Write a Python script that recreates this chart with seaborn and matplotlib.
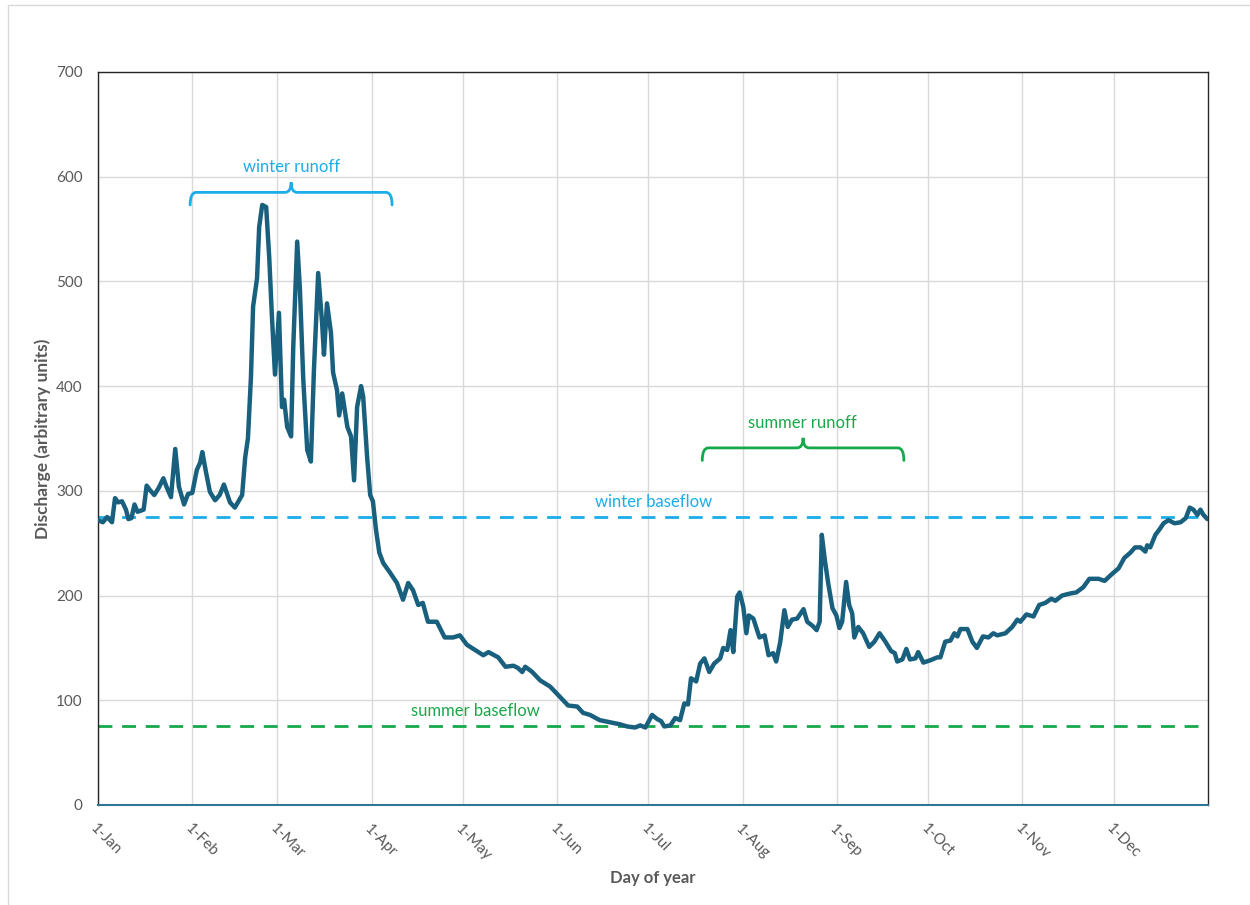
import matplotlib
matplotlib.use("Agg")
import matplotlib.pyplot as plt
import matplotlib.patches as mpatches
from matplotlib.path import Path
import pandas as pd
import seaborn as sns

# Discharge series (day of year, value)
day = [0, 1.6, 3, 4.6, 5.6, 6.6, 7.9, 9.2, 10, 11, 12, 13, 15, 16, 17, 18.5, 20, 21.5, 22.5, 24,
       25.4, 26.6, 28.3, 29.6, 31, 32.5, 33.6, 34.3, 35.5, 36.8, 38.5, 40, 41.4, 43.4, 45, 47.4,
       48.4, 49.3, 50.3, 51, 52.3, 53, 54, 55.3, 56.3, 57.2, 58.2, 59.5, 60.5, 61.2, 62.2, 63.5,
       64.2, 65.5, 66.4, 67.5, 68.8, 70, 71, 72.4, 73.7, 74.3, 75.3, 76.6, 77.3, 78.6, 79.3, 80.3,
       82, 83.2, 84.2, 85.2, 86.5, 87.2, 88.5, 89.5, 90.4, 91.4, 92.5, 93.8, 96, 98.3, 100.3, 102,
       103.6, 105.3, 106.8, 108.5, 111.4, 114, 116.8, 119, 121.3, 124, 126.7, 128.4, 131.6, 134,
       136.6, 138, 139.5, 140.5, 142.8, 145.4, 148.7, 152, 154.6, 157.6, 159.5, 161.8, 165, 168.4,
       171.7, 174, 176.6, 178.3, 180, 182.2, 183.9, 185.2, 186.2, 188.2, 189.8, 191.4, 192.8, 194,
       195, 196.7, 198, 199.4, 201, 202.6, 204.6, 205.6, 206.9, 208, 208.9, 210.2, 211, 212.2,
       213.2, 214, 215.5, 217.5, 219.2, 220.5, 222, 223, 224.3, 225.7, 226.8, 228.2, 229.9, 232,
       233.2, 235, 236.3, 237.3, 238, 239, 240.1, 241.5, 242.8, 243.8, 244.7, 246, 247, 248,
       248.7, 250, 251.6, 253.6, 255.3, 257, 258.9, 260.8, 262, 262.8, 264.5, 265.8, 267, 268.8,
       269.7, 271.4, 273.5, 276, 277, 278.6, 280.3, 281.6, 282.6, 283.6, 285.9, 287.5, 289, 291,
       292.8, 294.4, 295.7, 298.4, 300.6, 302.3, 303.3, 305.3, 307.6, 309.5, 311.5, 313.5, 314.8,
       317, 319.7, 321.7, 324, 326, 329, 331, 333.2, 335.6, 337.5, 339.5, 341, 342.8, 344.4, 345,
       346, 347.7, 349, 350.4, 352, 354, 356, 357.7, 359, 360.2, 361.5, 362.5, 363.5, 364.8]
discharge = [272, 270, 275, 270, 293, 289, 290, 282, 273, 274, 287, 280, 282, 305, 301, 296, 303, 312, 304, 294,
             340, 304, 287, 297, 298, 320, 327, 337, 318, 299, 291, 296, 306, 289, 284, 296,
             332, 350, 409, 476, 503, 552, 573, 571, 523, 466, 411, 470, 380, 387, 361, 352,
             437, 538, 492, 406, 339, 328, 415, 508, 460, 430, 479, 451, 413, 396, 372, 393,
             361, 352, 310, 380, 400, 390, 332, 296, 290, 263, 241, 231, 222, 212, 196, 212,
             205, 191, 193, 175, 175, 160, 160, 162, 153, 148, 143, 146, 141, 132,
             133, 131, 127, 132, 127, 119, 113, 103, 95, 94, 88, 86, 81, 79,
             77, 75, 74, 76, 74, 86, 82, 80, 75, 76, 83, 81, 97, 96,
             121, 118, 135, 140, 127, 135, 140, 150, 148, 167, 146, 199, 203, 189,
             164, 181, 178, 160, 162, 143, 145, 137, 155, 186, 170, 177, 178, 187,
             175, 171, 167, 175, 258, 234, 212, 188, 181, 169, 175, 213, 191, 183,
             160, 170, 164, 151, 156, 164, 156, 147, 145, 137, 139, 149, 139, 140,
             146, 136, 138, 141, 141, 156, 157, 164, 161, 168, 168, 156, 150, 161,
             160, 164, 162, 164, 170, 177, 175, 182, 180, 191, 193, 197, 195,
             200, 202, 203, 208, 216, 216, 214, 220, 226, 236, 241, 246, 246, 242, 248,
             246, 258, 263, 269, 272, 269, 270, 274, 284, 282, 277, 282, 277, 273]

month_start = [0, 31, 59, 90, 120, 151, 181, 212, 243, 273, 304, 334]
month_labels = ["1-Jan", "1-Feb", "1-Mar", "1-Apr", "1-May", "1-Jun",
                "1-Jul", "1-Aug", "1-Sep", "1-Oct", "1-Nov", "1-Dec"]

winter_baseflow = 275
summer_baseflow = 75

df = pd.DataFrame({"day": day, "discharge": discharge})

sns.set_style("white")
plt.rcParams["font.family"] = ["Lato", "DejaVu Sans"]

line_col = "#19607F"
blue = "#1AADE8"
green = "#16A84A"
text_gray = "#595959"

fig = plt.figure(figsize=(12.5, 9.05), dpi=100)
ax = fig.add_axes([0.0784, 0.1105, 0.888, 0.81])

# light border around the chart area
fig.patches.append(mpatches.Rectangle((0.0064, -0.02), 1.1, 1.0145, transform=fig.transFigure,
                                      fill=False, edgecolor="#D9D9D9", linewidth=1))

ax.set_axisbelow(True)
ax.grid(True, color="#D9D9D9", linewidth=1)

sns.lineplot(data=df, x="day", y="discharge", ax=ax, color=line_col, linewidth=3.2,
             sort=False, solid_joinstyle="round", solid_capstyle="round", zorder=3)

ax.axhline(winter_baseflow, color=blue, linestyle=(0, (5, 3.5)), linewidth=2, zorder=2)
ax.axhline(summer_baseflow, color=green, linestyle=(0, (5, 3.5)), linewidth=2, zorder=2)


def brace(x0, x1, y, h, color):
    # curly bracket opening downward, drawn in data coords
    xm = (x0 + x1) / 2
    r = 2.0
    verts = [(x0, y - h), (x0, y), (x0 + r, y),
             (xm - r, y), (xm, y), (xm, y + h * 0.8),
             (xm, y), (xm + r, y),
             (x1 - r, y), (x1, y), (x1, y - h)]
    codes = [Path.MOVETO, Path.CURVE3, Path.CURVE3,
             Path.LINETO, Path.CURVE3, Path.CURVE3,
             Path.CURVE3, Path.CURVE3,
             Path.LINETO, Path.CURVE3, Path.CURVE3]
    ax.add_patch(mpatches.PathPatch(Path(verts, codes), fill=False, edgecolor=color,
                                    linewidth=2, capstyle="round", zorder=4))


brace(30.3, 96.7, 585, 12, blue)
brace(198.7, 265, 341, 12, green)

ax.text(63.5, 602, "winter runoff", color=blue, fontsize=12, ha="center", va="bottom")
ax.text(231.6, 357, "summer runoff", color=green, fontsize=12, ha="center", va="bottom")
ax.text(182.6, 282, "winter baseflow", color=blue, fontsize=12, ha="center", va="bottom")
ax.text(124, 82, "summer baseflow", color=green, fontsize=12, ha="center", va="bottom")

ax.set_xlim(0, 365)
ax.set_ylim(0, 700)
ax.set_yticks(range(0, 701, 100))
ax.set_xticks(month_start)
ax.set_xticklabels(month_labels, rotation=-45, ha="left", va="top", rotation_mode="anchor")
ax.tick_params(axis="both", colors=text_gray, labelsize=11, length=0)
ax.tick_params(axis="x", pad=12)
ax.tick_params(axis="y", pad=11)

for s in ["left", "top", "right"]:
    ax.spines[s].set_color("#262626")
    ax.spines[s].set_linewidth(1)
ax.spines["bottom"].set_color("#2F7595")
ax.spines["bottom"].set_linewidth(1.5)

ax.set_xlabel("Day of year", color=text_gray, fontsize=12, fontweight="bold", labelpad=5)
ax.set_ylabel("Discharge (arbitrary units)", color=text_gray, fontsize=12.5, fontweight="bold",
              labelpad=4)

fig.savefig("out.png", dpi=100)
